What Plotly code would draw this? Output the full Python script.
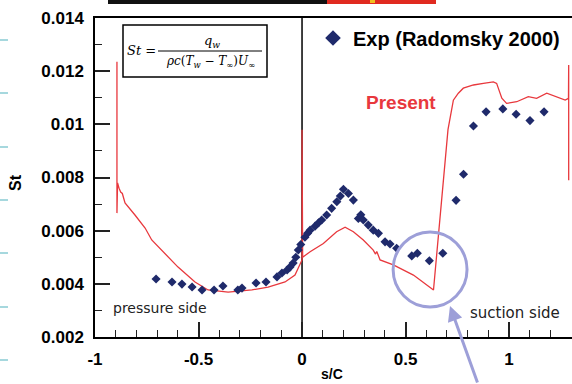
import plotly.graph_objects as go

# ---------------- data ----------------
present_s = [-0.894, -0.894, -0.891, -0.884, -0.876, -0.868, -0.855, -0.807, -0.758, -0.726,
             -0.678, -0.599, -0.517, -0.454, -0.357, -0.242, -0.164, -0.082, -0.034, -0.01,
             0.0, 0.0, 0.003, 0.039, 0.103, 0.167, 0.208, 0.248, 0.296, 0.344,
             0.355, 0.361, 0.368, 0.377, 0.441, 0.538, 0.635, 0.645, 0.662, 0.683,
             0.705, 0.731, 0.755, 0.779, 0.828, 0.876, 0.924, 0.94, 0.965, 0.988,
             1.037, 1.093, 1.133, 1.182, 1.23, 1.271, 1.287, 1.288, 1.288]
present_st = [0.01235, 0.00666, 0.0078, 0.0076, 0.00745, 0.0074, 0.00704, 0.00659, 0.0061, 0.00565,
              0.00527, 0.00463, 0.00407, 0.00377, 0.00369, 0.00377, 0.00388, 0.00407, 0.00433, 0.0047,
              0.0049, 0.0098, 0.0050, 0.00521, 0.00552, 0.00596, 0.00613, 0.00596, 0.00565, 0.00527,
              0.00512, 0.00522, 0.00505, 0.0049, 0.00471, 0.00433, 0.00377, 0.0046, 0.0062, 0.0079,
              0.0098, 0.01091, 0.01117, 0.01136, 0.01148, 0.01154, 0.0116, 0.01154, 0.01098, 0.01079,
              0.01085, 0.01104, 0.01098, 0.01117, 0.01104, 0.01091, 0.01098, 0.01223, 0.0079]

exp_s = [-0.705, -0.628, -0.58, -0.531, -0.483, -0.425, -0.382, -0.31, -0.29, -0.222,
         -0.174, -0.121, -0.097, -0.072, -0.058, -0.043, -0.03, -0.018, -0.006, 0.014,
         0.027, 0.039, 0.063, 0.08, 0.095, 0.119, 0.143, 0.168, 0.185, 0.2,
         0.224, 0.248, 0.272, 0.284, 0.296, 0.32, 0.344, 0.369, 0.401, 0.425,
         0.457, 0.53, 0.557, 0.615, 0.68, 0.744, 0.78, 0.828, 0.889, 0.97,
         1.034, 1.101, 1.169]
exp_st = [0.00418, 0.00407, 0.00399, 0.00388, 0.00377, 0.00377, 0.00392, 0.00377, 0.00384, 0.00403,
          0.00407, 0.00426, 0.00441, 0.00452, 0.00463, 0.00478, 0.00500, 0.00527, 0.00548, 0.00575,
          0.0059, 0.00602, 0.00617, 0.0063, 0.0064, 0.00659, 0.00684, 0.00709, 0.0073, 0.00756,
          0.0074, 0.00715, 0.00646, 0.0066, 0.0064, 0.00621, 0.00602, 0.0059, 0.00558, 0.0055,
          0.00534, 0.00505, 0.00515, 0.00487, 0.00515, 0.00714, 0.00812, 0.00994, 0.01047, 0.01058,
          0.01038, 0.01014, 0.01047]

x_tickvals = [-1, -0.5, 0, 0.5, 1]
x_ticktext = ["-1", "-0.5", "0", "0.5", "1"]
y_tickvals = [0.002, 0.004, 0.006, 0.008, 0.010, 0.012, 0.014]
y_ticktext = ["0.002", "0.004", "0.006", "0.008", "0.01", "0.012", "0.014"]

# ---------------- layout geometry (pixels) ----------------
W, H = 572, 384
L, R, T, B = 95, 0, 18, 47
PW, PH = W - L - R, H - T - B


def px(x):
    return (x - L) / PW


def py(y):
    return (H - B - y) / PH


RED = "#e8383d"
NAVY = "#1f2a6b"
LAV = "#9d9fd8"
BOLD = dict(family="Liberation Sans", color="black", weight="bold")

fig = go.Figure()
fig.add_trace(go.Scatter(x=present_s, y=present_st, mode="lines",
                         line=dict(color=RED, width=1.3), showlegend=False, name="Present"))
fig.add_trace(go.Scatter(x=exp_s, y=exp_st, mode="markers",
                         marker=dict(symbol="diamond", size=7, color=NAVY),
                         name="Exp (Radomsky 2000)"))

shapes = []
# leading edge line at s/C = 0
shapes.append(dict(type="line", xref="x", yref="paper", x0=0, x1=0, y0=0, y1=1,
                   line=dict(color="black", width=1.5), layer="below"))
# highlight circle
shapes.append(dict(type="circle", xref="x", yref="y", x0=0.44, x1=0.797, y0=0.00313, y1=0.00595,
                   line=dict(color=LAV, width=3)))
# formula box
shapes.append(dict(type="rect", xref="paper", yref="paper", x0=px(123), x1=px(267), y0=py(77), y1=py(25),
                   line=dict(color="black", width=1.5), fillcolor="white"))
shapes.append(dict(type="line", xref="paper", yref="paper", x0=px(158), x1=px(262), y0=py(51), y1=py(51),
                   line=dict(color="black", width=1)))
# slide decorations: top bar
shapes.append(dict(type="rect", xref="paper", yref="paper", x0=px(108), x1=px(327), y0=py(4), y1=py(-2),
                   line=dict(width=0), fillcolor="#111111"))
shapes.append(dict(type="rect", xref="paper", yref="paper", x0=px(327), x1=px(436), y0=py(4), y1=py(-2),
                   line=dict(width=0), fillcolor="#e02a20"))
shapes.append(dict(type="rect", xref="paper", yref="paper", x0=px(370), x1=px(375), y0=py(3), y1=py(-2),
                   line=dict(width=0), fillcolor="#f0c020"))
# slide decorations: left cyan dashes
for yy in [40, 93, 147, 200, 253, 307, 360]:
    shapes.append(dict(type="line", xref="paper", yref="paper", x0=px(0), x1=px(8), y0=py(yy), y1=py(yy),
                       line=dict(color="#a6d8de", width=2)))


def label(text, x, y, font, **kw):
    return dict(text=text, xref="paper", yref="paper", x=px(x), y=py(y), showarrow=False,
                xanchor="center", yanchor="middle", font=font, **kw)


annotations = [
    label("Present", 401, 103, dict(family="Liberation Sans", size=19, color=RED, weight="bold")),
    label("pressure side", 160, 308, dict(family="DejaVu Sans", size=14, color="#222222")),
    label("suction side", 515, 313, dict(family="DejaVu Sans", size=15, color="#222222")),
    label("St", 16, 183, dict(size=16, **BOLD), textangle=-90),
    label("s/C", 332, 374, dict(size=14, **BOLD)),
    # formula
    label("<i>St</i> =", 141, 51, dict(family="DejaVu Serif", size=13, color="black")),
    label("<i>q<sub>w</sub></i>", 212, 42, dict(family="DejaVu Serif", size=13, color="black")),
    label("<i>ρc</i>(<i>T<sub>w</sub></i> − <i>T<sub>∞</sub></i>)<i>U<sub>∞</sub></i>", 210, 62,
          dict(family="DejaVu Serif", size=12, color="black")),
    # arrow pointing to circle
    dict(text="", xref="paper", yref="paper", x=px(450), y=py(306), ax=28, ay=85,
         showarrow=True, arrowhead=2, arrowsize=1, arrowwidth=3, arrowcolor=LAV),
]

fig.update_layout(
    width=W, height=H,
    margin=dict(l=L, r=R, t=T, b=B, pad=0),
    paper_bgcolor="white", plot_bgcolor="white",
    shapes=shapes, annotations=annotations,
    showlegend=True,
    legend=dict(x=px(313), y=py(38), xanchor="left", yanchor="middle",
                bgcolor="rgba(0,0,0,0)", font=dict(size=20, **BOLD), itemsizing="constant"),
    xaxis=dict(range=[-1, 1.304], showgrid=False, zeroline=False,
               showline=True, linecolor="black", linewidth=1.5, mirror=True,
               ticks="inside", ticklen=15, tickwidth=1.5, tickcolor="#222222",
               tickvals=x_tickvals, ticktext=x_ticktext,
               tickfont=dict(size=17, **BOLD), ticklabelstandoff=6,
               minor=dict(ticks="inside", ticklen=7, tickwidth=1.3, tickcolor="#222222", dtick=0.1, showgrid=False)),
    yaxis=dict(range=[0.002, 0.014], showgrid=False, zeroline=False,
               showline=True, linecolor="black", linewidth=1.5, mirror=False,
               ticks="inside", ticklen=15, tickwidth=1.5, tickcolor="#222222",
               tickvals=y_tickvals, ticktext=y_ticktext,
               tickfont=dict(size=17, **BOLD), ticklabelstandoff=6,
               minor=dict(ticks="inside", ticklen=7, tickwidth=1.3, tickcolor="#222222", dtick=0.001, showgrid=False)),
)

fig.write_html("out.html", config={"displayModeBar": False},
               post_script="document.body.style.margin='0';document.body.style.overflow='hidden';")
